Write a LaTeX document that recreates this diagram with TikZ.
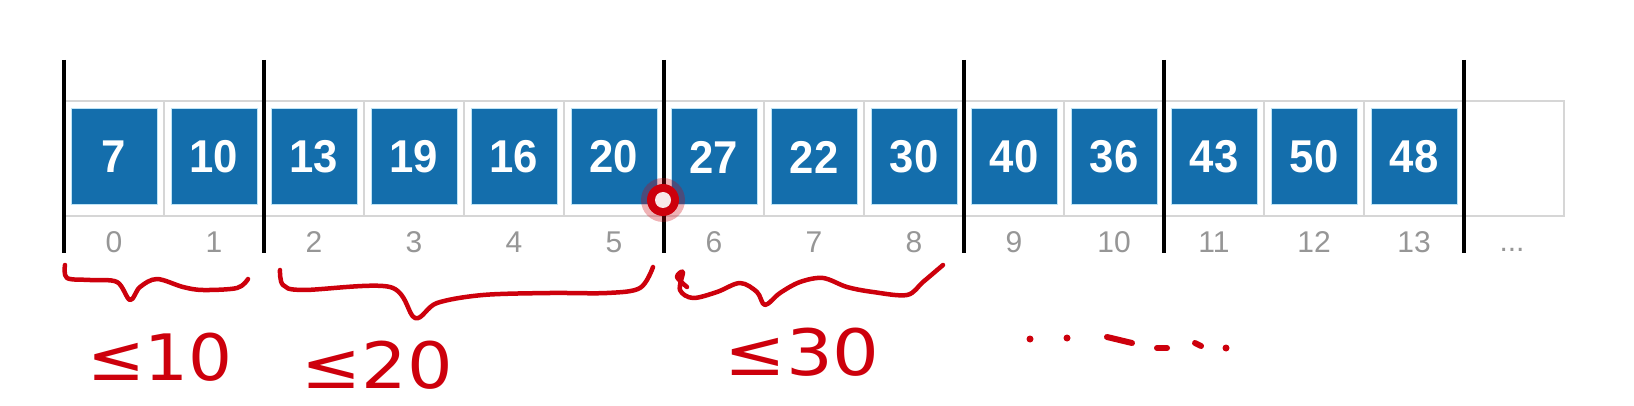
\documentclass[tikz,border=0pt]{standalone}
\usepackage{fontspec}
\setmainfont{Liberation Sans}
\newfontfamily\dejavu{DejaVu Sans}
\definecolor{boxblue}{RGB}{20,110,172}
\definecolor{boxedge}{RGB}{190,228,246}
\definecolor{gridgray}{RGB}{214,214,214}
\definecolor{idxgray}{RGB}{150,150,150}
\definecolor{ink}{RGB}{205,0,12}
\tikzset{
  cellbox/.style={draw=gridgray, line width=1.2pt, minimum width=100pt, minimum height=115pt, inner sep=0pt},
  valbox/.style={fill=boxblue, draw=boxedge, line width=1pt, minimum width=86pt, minimum height=96pt, inner sep=0pt, text=white, font=\fontsize{46}{46}\selectfont\bfseries},
  idx/.style={text=idxgray, font=\fontsize{30}{30}\selectfont, inner sep=0pt},
  sepline/.style={line width=4pt, black},
  hand/.style={draw=ink, line width=4.5pt, line cap=round, line join=round},
  handtext/.style={text=ink, font=\dejavu\fontsize{64}{64}\selectfont, inner sep=0pt},
}
\begin{document}
\begin{tikzpicture}[x=1pt,y=-1pt]
\useasboundingbox (0,0) rectangle (1634,406);
\fill[white] (0,0) rectangle (1634,406);
% cells
\foreach \i in {0,...,14}
  \node[cellbox] (c\i) at ({114+100*\i},158.5) {};
% value boxes
\foreach \v [count=\i from 0] in {7,10,13,19,16,20,27,22,30,40,36,43,50,48}
  \node[valbox] (b\i) at ({114+100*\i},157) {\scalebox{0.95}[1]{\v}};
% indices
\foreach \i in {0,...,13}
  \node[idx] (i\i) at ({114+100*\i},242) {\i};
\node[idx, anchor=base] (i14) at (1512,252) {...};
% separators
\foreach \k in {0,2,6,9,11,14} {
  \coordinate (st\k) at ({64+100*\k},60);
  \coordinate (sb\k) at ({64+100*\k},253);
  \draw[sepline] (st\k) -- (sb\k);
}
% red pointer dot
\node[circle, fill=ink, opacity=0.3, minimum size=44pt, inner sep=0pt] (glow) at (663,200) {};
\node[circle, fill=ink, minimum size=32pt, inner sep=0pt] (dot) at (glow) {};
\node[circle, fill={rgb,255:red,248;green,232;blue,232}, minimum size=16pt, inner sep=0pt] (dotc) at (dot) {};
% braces
\draw[hand] plot[smooth, tension=0.55] coordinates {(65,265) (67,278) (90,280) (117,282) (130,300) (140,287) (157,279) (183,287) (203,290) (237,288) (248,279)};
\draw[hand] plot[smooth, tension=0.55] coordinates {(280,270) (283,285) (303,290) (390,287) (415,318) (437,303) (483,295) (550,293) (607,293) (640,288) (653,267)};
\draw[hand] plot[smooth, tension=0.55] coordinates {(687,287) (677,277) (683,272) (680,290) (693,298) (717,292) (740,283) (757,292) (765,305) (780,293) (800,282) (823,278) (847,287) (873,292) (907,295) (923,282) (943,265)};
% handwritten labels
\node[handtext] (t1) at (160,357) {\scalebox{1.08}[1]{≤10}};
\node[handtext] (t2) at (377,365) {\scalebox{1.12}[1]{≤20}};
\node[handtext] (t3) at (802,352) {\scalebox{1.15}[1]{≤30}};
% trailing scribble
\fill[ink] (1030,339) circle (3.5);
\fill[ink] (1067,338) circle (3.5);
\draw[hand, line width=6pt] (1107,337) -- (1132,343);
\draw[hand, line width=6pt] (1157,348) -- (1167,348);
\draw[hand, line width=6pt] (1195,343) -- (1201,346);
\fill[ink] (1226,348) circle (3.5);
\end{tikzpicture}
\end{document}
